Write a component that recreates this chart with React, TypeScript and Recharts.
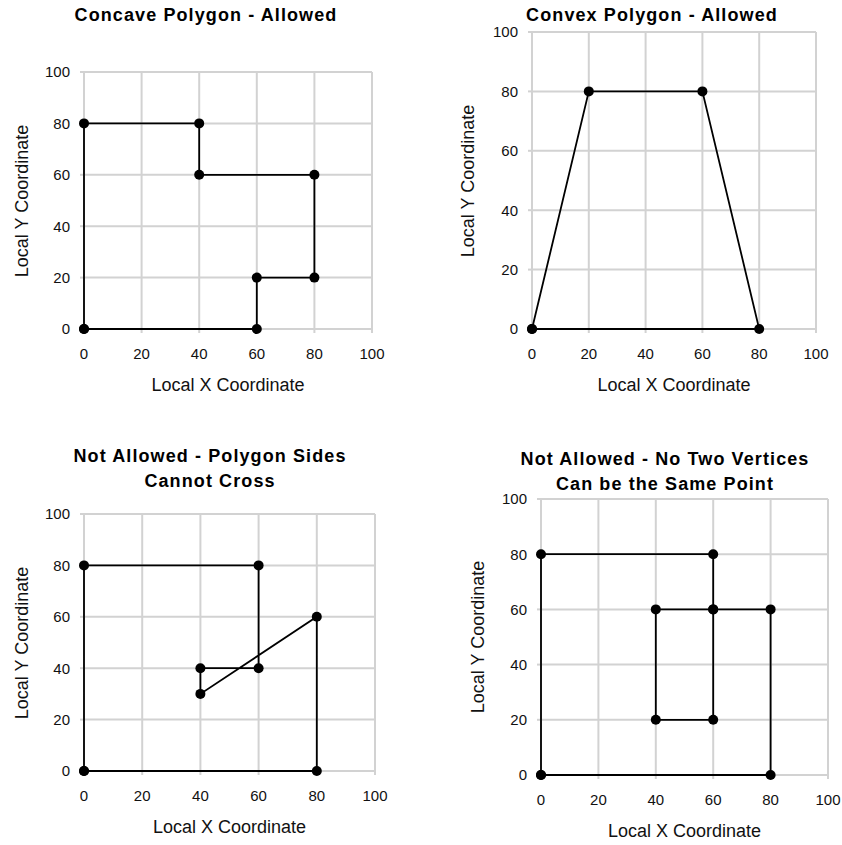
import {
  ScatterChart,
  Scatter,
  XAxis,
  YAxis,
  CartesianGrid,
} from "recharts";

// polygon vertices, in drawing order (first point repeated to close)
const concaveX = [0, 0, 40, 40, 80, 80, 60, 60, 0];
const concaveY = [0, 80, 80, 60, 60, 20, 20, 0, 0];

const convexX = [0, 20, 60, 80, 0];
const convexY = [0, 80, 80, 0, 0];

const crossX = [0, 0, 60, 60, 40, 40, 80, 80, 0];
const crossY = [0, 80, 80, 40, 40, 30, 60, 0, 0];

const samePointX = [0, 0, 60, 60, 60, 40, 40, 60, 80, 80, 0];
const samePointY = [0, 80, 80, 60, 20, 20, 60, 60, 60, 0, 0];

const AXIS_TICKS = [0, 20, 40, 60, 80, 100];
const X_TITLE = "Local X Coordinate";
const Y_TITLE = "Local Y Coordinate";

const FONT = '"Liberation Sans", Arial, sans-serif';
const GRID = "#d2d2d2";
const Y_AXIS_W = 50;
const X_AXIS_H = 40;

interface Panel {
  title: string[];
  xs: number[];
  ys: number[];
  box: [number, number, number, number]; // left, top, width, height
  plot: [number, number, number, number]; // left, top, right, bottom
  titleCenter: [number, number];
  xTitleY: number;
  yTitleX: number;
}

const PANELS: Panel[] = [
  {
    title: ["Concave Polygon - Allowed"],
    xs: concaveX,
    ys: concaveY,
    box: [0, 0, 421, 400],
    plot: [84, 72, 372, 329],
    titleCenter: [206, 15],
    xTitleY: 385,
    yTitleX: 22,
  },
  {
    title: ["Convex Polygon - Allowed"],
    xs: convexX,
    ys: convexY,
    box: [421, 0, 421, 400],
    plot: [532, 32, 816, 329],
    titleCenter: [652, 15],
    xTitleY: 385,
    yTitleX: 468,
  },
  {
    title: ["Not Allowed - Polygon Sides", "Cannot Cross"],
    xs: crossX,
    ys: crossY,
    box: [0, 400, 421, 445],
    plot: [84, 514, 375, 771],
    titleCenter: [210, 469],
    xTitleY: 827,
    yTitleX: 22,
  },
  {
    title: ["Not Allowed - No Two Vertices", "Can be the Same Point"],
    xs: samePointX,
    ys: samePointY,
    box: [421, 400, 421, 445],
    plot: [541, 499, 828, 775],
    titleCenter: [665, 472],
    xTitleY: 831,
    yTitleX: 478,
  },
];

function Vertex(props: { cx?: number; cy?: number }) {
  if (props.cx == null || props.cy == null) return null;
  return <circle cx={props.cx} cy={props.cy} r={5} fill="#000" />;
}

function PolygonChart({ p }: { p: Panel }) {
  const [bx, by, bw, bh] = p.box;
  const [pl, pt, pr, pb] = p.plot;
  const data = p.xs.map((x, i) => ({ x, y: p.ys[i] }));
  const margin = {
    left: pl - bx - Y_AXIS_W,
    top: pt - by,
    right: bx + bw - pr,
    bottom: by + bh - pb - X_AXIS_H,
  };
  const tick = { fontSize: 15, fill: "#111", fontFamily: FONT };
  const lh = 25;
  const titleH = p.title.length * lh;

  return (
    <>
      <div style={{ position: "absolute", left: bx, top: by }}>
        <ScatterChart width={bw} height={bh} margin={margin}>
          <CartesianGrid stroke={GRID} strokeWidth={2} />
          <XAxis
            type="number"
            dataKey="x"
            domain={[0, 100]}
            ticks={AXIS_TICKS}
            height={X_AXIS_H}
            axisLine={false}
            tickLine={{ stroke: GRID, strokeWidth: 2 }}
            tickSize={4}
            tickMargin={15}
            tick={tick}
            interval={0}
          />
          <YAxis
            type="number"
            dataKey="y"
            domain={[0, 100]}
            ticks={AXIS_TICKS}
            width={Y_AXIS_W}
            axisLine={false}
            tickLine={{ stroke: GRID, strokeWidth: 2 }}
            tickSize={4}
            tickMargin={10}
            tick={tick}
            interval={0}
          />
          <Scatter
            data={data}
            line={{ stroke: "#000", strokeWidth: 1.8 }}
            lineType="joint"
            shape={<Vertex />}
            isAnimationActive={false}
          />
        </ScatterChart>
      </div>
      <div
        style={{
          position: "absolute",
          left: p.titleCenter[0] - 200,
          top: p.titleCenter[1] - titleH / 2,
          width: 400,
          textAlign: "center",
          fontFamily: FONT,
          fontWeight: "bold",
          fontSize: 18,
          letterSpacing: 1.1,
          lineHeight: lh + "px",
          color: "#000",
        }}
      >
        {p.title.map((t) => (
          <div key={t}>{t}</div>
        ))}
      </div>
      <div
        style={{
          position: "absolute",
          left: (pl + pr) / 2 - 150,
          top: p.xTitleY - 11,
          width: 300,
          textAlign: "center",
          fontFamily: FONT,
          fontSize: 18,
          lineHeight: "22px",
          color: "#111",
        }}
      >
        {X_TITLE}
      </div>
      <div
        style={{
          position: "absolute",
          left: p.yTitleX - 150,
          top: (pt + pb) / 2 - 11,
          width: 300,
          textAlign: "center",
          fontFamily: FONT,
          fontSize: 18,
          lineHeight: "22px",
          color: "#111",
          transform: "rotate(-90deg)",
        }}
      >
        {Y_TITLE}
      </div>
    </>
  );
}

export default function App() {
  return (
    <div
      style={{
        position: "absolute",
        left: 0,
        top: 0,
        width: 842,
        height: 845,
        background: "#fff",
      }}
    >
      {PANELS.map((p) => (
        <PolygonChart key={p.title[0]} p={p} />
      ))}
    </div>
  );
}
